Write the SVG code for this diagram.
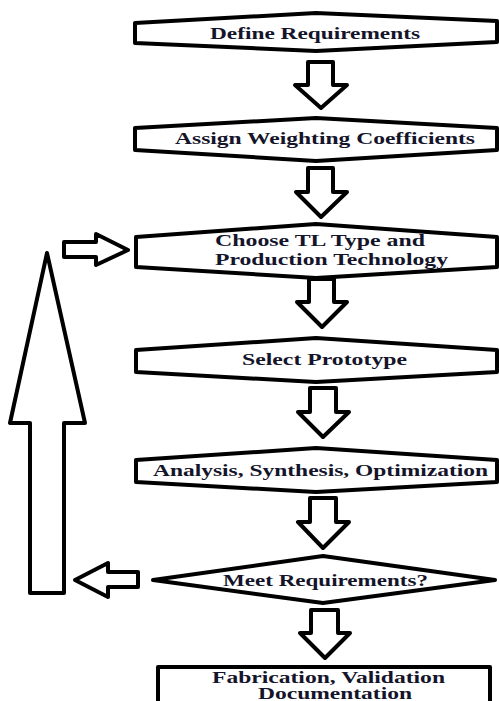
<svg xmlns="http://www.w3.org/2000/svg" width="499" height="701" viewBox="0 0 499 701">
  <style>
    .shape { fill: #ffffff; stroke: #000000; stroke-width: 4; stroke-linejoin: round; }
    .arrow { fill: #ffffff; stroke: #000000; stroke-width: 4; stroke-linejoin: round; }
    .label { font-family: "Liberation Serif", "Times New Roman", "DejaVu Serif", serif; font-weight: 700; font-size: 17.5px; fill: #14142a; }
    .small { font-size: 16px; }
  </style>
  <rect x="0" y="0" width="499" height="701" fill="#ffffff"/>

  <!-- block arrows between the steps -->
  <g id="connectors">
    <polygon class="arrow" points="308,62 333,62 333,85 347,85 321,108 295,85 308,85"/>
    <polygon class="arrow" points="308,168 333,168 333,192 347,192 321,217 296,192 308,192"/>
    <polygon class="arrow" points="309,279 334,279 334,302 347,302 322,327 297,302 309,302"/>
    <polygon class="arrow" points="310,388 336,388 336,412 349,412 323,437 298,412 310,412"/>
    <polygon class="arrow" points="310,498 336,498 336,522 349,522 323,548 298,522 310,522"/>
    <polygon class="arrow" points="311,610 338,610 338,633 350,633 325,658 300,633 311,633"/>
    <!-- feedback loop: back to the type selection step -->
    <polygon class="arrow" points="138,572 138,587 108,587 108,597 75,580 108,563 108,572"/>
    <polygon class="arrow" points="30,593 64,593 64,423 85,423 47,253 10,423 30,423"/>
    <polygon class="arrow" points="64,242 96,242 96,234 128,250 96,265 96,257 64,257"/>
  </g>

  <g id="define-requirements">
    <polygon class="shape" points="135,23 316,13 497,21 497,42 316,51 135,43"/>
    <text class="label" x="210" y="38.5" textLength="210" lengthAdjust="spacingAndGlyphs">Define Requirements</text>
  </g>

  <g id="assign-weighting">
    <polygon class="shape" points="135,128 316,118 497,128 497,150 316,161 135,150"/>
    <text class="label" x="175" y="143.5" textLength="300" lengthAdjust="spacingAndGlyphs">Assign Weighting Coefficients</text>
  </g>

  <g id="choose-tl-type">
    <polygon class="shape" points="136,237 316,224 497,237 497,267 316,278 136,267"/>
    <text class="label" x="215" y="245.5" textLength="210" lengthAdjust="spacingAndGlyphs">Choose TL Type and</text>
    <text class="label" x="215" y="264.5" textLength="233" lengthAdjust="spacingAndGlyphs">Production Technology</text>
  </g>

  <g id="select-prototype">
    <polygon class="shape" points="136,350 316,338 497,350 497,372 316,382 136,372"/>
    <text class="label" x="242" y="365" textLength="165" lengthAdjust="spacingAndGlyphs">Select Prototype</text>
  </g>

  <g id="analysis-synthesis">
    <polygon class="shape" points="136,460 316,448 497,460 497,482 316,492 136,482"/>
    <text class="label" x="153" y="475.5" textLength="335" lengthAdjust="spacingAndGlyphs">Analysis, Synthesis, Optimization</text>
  </g>

  <g id="meet-requirements">
    <polygon class="shape" points="153,580 323,556 495,580 323,603"/>
    <text class="label" x="223" y="585.5" textLength="205" lengthAdjust="spacingAndGlyphs">Meet Requirements?</text>
  </g>

  <g id="fabrication">
    <rect class="shape" x="158" y="667" width="332" height="50" stroke-linejoin="miter"/>
    <text class="label small" x="212" y="683" textLength="233" lengthAdjust="spacingAndGlyphs">Fabrication, Validation</text>
    <text class="label small" x="258" y="699" textLength="154" lengthAdjust="spacingAndGlyphs">Documentation</text>
  </g>
</svg>
